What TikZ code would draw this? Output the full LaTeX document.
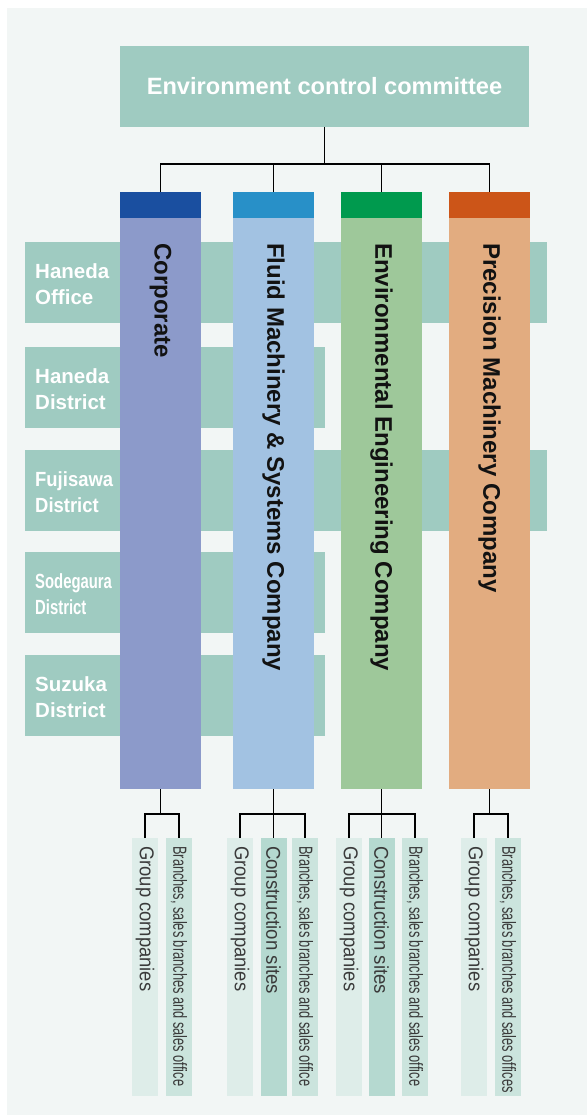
\documentclass[tikz,border=0pt]{standalone}
\usepackage{fontspec}
\setmainfont{Liberation Sans}
\newfontfamily\condG[FakeStretch=0.92]{Liberation Sans}
\newfontfamily\condC[FakeStretch=0.93]{Liberation Sans}
\newfontfamily\condB[FakeStretch=0.675]{Liberation Sans}
\newfontfamily\condS[FakeStretch=0.725]{Liberation Sans}
\newfontfamily\condF[FakeStretch=0.9]{Liberation Sans}
\definecolor{bgc}{HTML}{F2F6F5}
\definecolor{teal}{HTML}{9FCBC1}
\definecolor{corpD}{HTML}{1A4FA0}
\definecolor{corpL}{HTML}{8C9ACA}
\definecolor{fluidD}{HTML}{2890C8}
\definecolor{fluidL}{HTML}{A2C2E2}
\definecolor{envD}{HTML}{009A4E}
\definecolor{envL}{HTML}{9EC89A}
\definecolor{precD}{HTML}{CC5518}
\definecolor{precL}{HTML}{E2AC80}
\definecolor{subG}{HTML}{DEEDE9}
\definecolor{subB}{HTML}{CBE4DD}
\definecolor{subC}{HTML}{B5D9D0}
\definecolor{subtxt}{HTML}{3A3A3A}
\begin{document}
\begin{tikzpicture}[x=1pt,y=-1pt,
  blk/.style={rectangle, inner sep=0pt, outer sep=0pt, draw=none},
  band/.style={blk, fill=teal, minimum height=81pt},
  head/.style={blk, minimum width=81pt, minimum height=26pt},
  body/.style={blk, minimum width=81pt, minimum height=571pt},
  sub/.style={blk, minimum width=26pt, minimum height=258pt},
  lab/.style={inner sep=0pt, anchor=west, align=left, text=white, font=\fontsize{20.5}{26}\selectfont\bfseries},
  ttl/.style={inner sep=0pt, rotate=-90, anchor=west, text=black!93, font=\fontsize{24}{28}\selectfont\bfseries},
  subt/.style={inner sep=0pt, rotate=-90, anchor=west, text=subtxt},
  conn/.style={draw=black, line width=1.8pt}
]
\useasboundingbox (0,0) rectangle (587,1115);
\fill[bgc] (7,8) rectangle (587,1115);

% committee
\node[blk, fill=teal, minimum width=409pt, minimum height=81pt, text=white,
      font=\fontsize{23.6}{28}\selectfont\bfseries] (comm) at (324.5,86.5) {\raisebox{-3pt}{Environment control committee}};

% site bands
\node[band, minimum width=522pt] (r1) at (286,282.5) {};
\node[band, minimum width=300pt] (r2) at (175,387.5) {};
\node[band, minimum width=522pt] (r3) at (286,490.5) {};
\node[band, minimum width=300pt] (r4) at (175,592.5) {};
\node[band, minimum width=300pt] (r5) at (175,695.5) {};

\node[lab] (l1) at (35,284) {Haneda\\Office};
\node[lab] (l2) at (35,389) {Haneda\\District};
\node[lab, font=\fontsize{20.5}{26}\selectfont\condF\bfseries] (l3) at (35,492) {Fujisawa\\District};
\node[lab, font=\fontsize{20.5}{26}\selectfont\condS\bfseries] (l4) at (35,594) {Sodegaura\\District};
\node[lab] (l5) at (35,697) {Suzuka\\District};

% columns
\node[head, fill=corpD] (h1) at (160.5,205) {};
\node[head, fill=fluidD] (h2) at (273.5,205) {};
\node[head, fill=envD] (h3) at (381.5,205) {};
\node[head, fill=precD] (h4) at (489.5,205) {};
\node[body, fill=corpL] (b1) at (160.5,503.5) {};
\node[body, fill=fluidL] (b2) at (273.5,503.5) {};
\node[body, fill=envL] (b3) at (381.5,503.5) {};
\node[body, fill=precL] (b4) at (489.5,503.5) {};

\node[ttl] (t1) at (160.5,243) {Corporate};
\node[ttl] (t2) at (273.5,243) {Fluid Machinery \& Systems Company};
\node[ttl] (t3) at (381.5,243) {Environmental Engineering Company};
\node[ttl] (t4) at (489.5,243) {Precision Machinery Company};

% top connectors
\draw[conn] (comm.south) -- (comm.south |- 0,164);
\draw[conn] (h1.north) |- (h4.north |- 0,164) -- (h4.north);
\draw[conn] (h2.north) -- (h2.north |- 0,164);
\draw[conn] (h3.north) -- (h3.north |- 0,164);

% sub boxes
\node[sub, fill=subG] (g1) at (145,967) {};
\node[sub, fill=subB] (s1) at (179,967) {};
\node[sub, fill=subG] (g2) at (240,967) {};
\node[sub, fill=subC] (c2) at (273.5,967) {};
\node[sub, fill=subB] (s2) at (305,967) {};
\node[sub, fill=subG] (g3) at (349,967) {};
\node[sub, fill=subC] (c3) at (381.5,967) {};
\node[sub, fill=subB] (s3) at (415,967) {};
\node[sub, fill=subG] (g4) at (474,967) {};
\node[sub, fill=subB] (s4) at (508,967) {};

\node[subt, font=\fontsize{20}{24}\selectfont\condG] (tg1) at (145,846) {Group companies};
\node[subt, font=\fontsize{19}{24}\selectfont\condB] (ts1) at (179,846) {Branches, sales branches and sales office};
\node[subt, font=\fontsize{20}{24}\selectfont\condG] (tg2) at (240,846) {Group companies};
\node[subt, font=\fontsize{20}{24}\selectfont\condC] (tc2) at (273.5,846) {Construction sites};
\node[subt, font=\fontsize{19}{24}\selectfont\condB] (ts2) at (305,846) {Branches, sales branches and sales office};
\node[subt, font=\fontsize{20}{24}\selectfont\condG] (tg3) at (349,846) {Group companies};
\node[subt, font=\fontsize{20}{24}\selectfont\condC] (tc3) at (381.5,846) {Construction sites};
\node[subt, font=\fontsize{19}{24}\selectfont\condB] (ts3) at (415,846) {Branches, sales branches and sales office};
\node[subt, font=\fontsize{20}{24}\selectfont\condG] (tg4) at (474,846) {Group companies};
\node[subt, font=\fontsize{19}{24}\selectfont\condB] (ts4) at (508,846) {Branches, sales branches and sales offices};

% bottom connectors
\draw[conn] (b1.south) -- (b1.south |- 0,814);
\draw[conn] (g1.north) |- (s1.north |- 0,814) -- (s1.north);
\draw[conn] (b2.south) -- (c2.north);
\draw[conn] (g2.north) |- (s2.north |- 0,814) -- (s2.north);
\draw[conn] (b3.south) -- (c3.north);
\draw[conn] (g3.north) |- (s3.north |- 0,814) -- (s3.north);
\draw[conn] (b4.south) -- (b4.south |- 0,814);
\draw[conn] (g4.north) |- (s4.north |- 0,814) -- (s4.north);
\end{tikzpicture}
\end{document}
